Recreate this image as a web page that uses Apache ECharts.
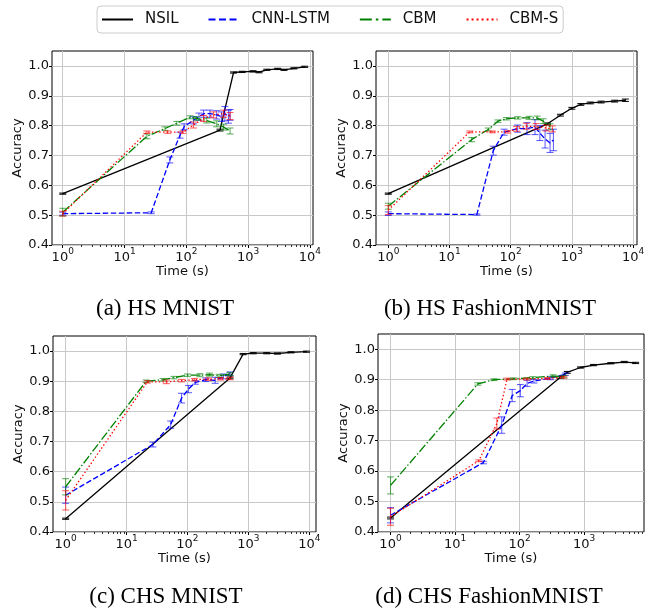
<!DOCTYPE html>
<html>
<head>
<meta charset="utf-8">
<script src="https://cdn.jsdelivr.net/npm/echarts@6/dist/echarts.min.js"></script>
<style>
  html, body { margin: 0; padding: 0; background: #fff; }
  #chart { width: 654px; height: 612px; }
</style>
</head>
<body>
<div id="chart"></div>
<script>
// each point: [time (s), accuracy, error half-width]
const hsMnistNsil = [[1,0.572,0.002],[350,0.785,0.003],[580,0.978,0.002],[800,0.98,0.002],[1200,0.982,0.002],[1500,0.979,0.002],[2000,0.987,0.002],[3000,0.99,0.002],[3800,0.987,0.002],[5500,0.992,0.002],[8200,0.997,0.002]];
const hsMnistCnn = [[1,0.505,0.005],[27,0.508,0.003],[54,0.685,0.01],[79,0.768,0.01],[92,0.796,0.01],[130,0.818,0.012],[160,0.83,0.012],[190,0.84,0.012],[240,0.84,0.012],[310,0.836,0.014],[370,0.83,0.016],[420,0.84,0.024],[480,0.83,0.022],[510,0.836,0.018]];
const hsMnistCbm = [[1,0.51,0.013],[23,0.764,0.008],[45,0.79,0.006],[70,0.808,0.006],[115,0.828,0.005],[146,0.824,0.006],[213,0.817,0.008],[310,0.806,0.01],[400,0.795,0.01],[510,0.782,0.01]];
const hsMnistCbmS = [[1,0.505,0.008],[23,0.778,0.004],[50,0.778,0.004],[88,0.778,0.004],[130,0.802,0.01],[190,0.824,0.01],[275,0.836,0.01],[400,0.84,0.012],[510,0.832,0.012]];

const hsFashionNsil = [[1,0.572,0.002],[400,0.806,0.003],[650,0.835,0.003],[1000,0.858,0.003],[1400,0.871,0.003],[2000,0.876,0.003],[3000,0.879,0.003],[5000,0.882,0.003],[7500,0.885,0.004]];
const hsFashionCnn = [[1,0.505,0.006],[28,0.502,0.002],[52,0.716,0.015],[78,0.778,0.01],[130,0.79,0.012],[185,0.79,0.02],[250,0.795,0.025],[300,0.775,0.025],[365,0.755,0.03],[440,0.742,0.032],[500,0.752,0.036]];
const hsFashionCbm = [[1,0.53,0.01],[23,0.753,0.007],[43,0.787,0.005],[62,0.815,0.004],[85,0.823,0.004],[130,0.826,0.004],[200,0.826,0.005],[270,0.826,0.006],[340,0.815,0.008],[440,0.796,0.01]];
const hsFashionCbmS = [[1,0.517,0.015],[21.5,0.779,0.003],[50,0.779,0.003],[90,0.779,0.004],[125,0.789,0.008],[180,0.798,0.01],[260,0.797,0.01],[380,0.792,0.01],[480,0.789,0.01]];

const chsMnistNsil = [[1,0.444,0.002],[500,0.911,0.003],[820,0.99,0.002],[1200,0.993,0.002],[2000,0.993,0.002],[3000,0.992,0.002],[5000,0.996,0.002],[9000,0.998,0.002]];
const chsMnistCnn = [[1,0.522,0.027],[27,0.69,0.008],[53,0.756,0.012],[80,0.844,0.016],[104,0.874,0.012],[135,0.896,0.006],[200,0.905,0.006],[285,0.903,0.01],[390,0.916,0.008],[500,0.925,0.006]];
const chsMnistCbm = [[1,0.55,0.027],[21,0.9,0.004],[40,0.905,0.004],[60,0.912,0.004],[100,0.92,0.004],[160,0.92,0.005],[230,0.922,0.005],[330,0.918,0.005],[500,0.924,0.005]];
const chsMnistCbmS = [[1,0.505,0.032],[22,0.898,0.004],[45,0.898,0.006],[80,0.902,0.004],[130,0.905,0.004],[220,0.907,0.004],[350,0.908,0.004],[500,0.909,0.004]];

const chsFashionNsil = [[1,0.446,0.003],[430,0.908,0.003],[550,0.924,0.003],[880,0.94,0.002],[1400,0.948,0.002],[2600,0.954,0.002],[4200,0.958,0.002],[6300,0.955,0.002]];
const chsFashionCnn = [[1,0.455,0.025],[27.5,0.628,0.004],[53,0.751,0.027],[77,0.848,0.02],[103,0.864,0.02],[131,0.888,0.01],[167,0.895,0.006],[300,0.905,0.005],[514,0.918,0.004]];
const chsFashionCbm = [[1,0.553,0.028],[22.6,0.886,0.004],[40,0.9,0.003],[80,0.903,0.003],[160,0.907,0.003],[330,0.912,0.004],[490,0.91,0.004]];
const chsFashionCbmS = [[1,0.45,0.028],[23.4,0.634,0.003],[44.5,0.756,0.018],[64,0.902,0.003],[130,0.902,0.003],[270,0.904,0.003],[485,0.908,0.003]];

const methodNames = ['NSIL', 'CNN-LSTM', 'CBM', 'CBM-S'];
const captions = ['(a) HS MNIST', '(b) HS FashionMNIST', '(c) CHS MNIST', '(d) CHS FashionMNIST'];
const yTicks = [0.4, 0.5, 0.6, 0.7, 0.8, 0.9, 1.0];
const xTicks = [1, 10, 100, 1000, 10000];

const panels = [
  { lines: [hsMnistNsil, hsMnistCnn, hsMnistCbm, hsMnistCbmS], min: 0.67, max: 11200, box: [52, 51, 261, 194], cap: [165, 309] },
  { lines: [hsFashionNsil, hsFashionCnn, hsFashionCbm, hsFashionCbmS], min: 0.63, max: 11600, box: [376, 51, 261, 194], cap: [490, 309] },
  { lines: [chsMnistNsil, chsMnistCnn, chsMnistCbm, chsMnistCbmS], min: 0.62, max: 12900, box: [53, 336, 263, 196], cap: [166, 597] },
  { lines: [chsFashionNsil, chsFashionCnn, chsFashionCbm, chsFashionCbmS], min: 0.64, max: 8500, box: [378, 334, 266, 198], cap: [489, 597] }
];

const colors = ['#000000', '#0000ff', '#008000', '#ff0000'];
const dashes = ['solid', [5.5, 2.5], [9, 2.2, 1.4, 2.2], [1.4, 2.3]];
const legendDashes = [[31, 0], [7, 3.5], [12, 4, 2.5, 4], [2, 3]];
const font = 'DejaVu Sans';
const txt = '#111';

// legend icon: dashed stroke drawn as little filled rects, 31 x 2
function dashIcon(pat) {
  let x = 0, i = 0, d = '';
  while (x < 31) {
    const len = pat[i % pat.length];
    if (i % 2 === 0) {
      const w = Math.min(len, 31 - x);
      d += 'M' + x + ',0h' + w + 'v2h-' + w + 'z';
    }
    x += len;
    i++;
  }
  // invisible anchor so every icon has the same 31 x 2 box
  d += 'M31,0v2z';
  return 'path://' + d;
}

// minor tick positions 2..9 x 10^n
const minorTicks = [];
[1, 10, 100, 1000].forEach(function (b) {
  for (let k = 2; k <= 9; k++) minorTicks.push(k * b);
});

const grids = [], xAxes = [], yAxes = [], series = [], graphics = [];

panels.forEach(function (p, i) {
  grids.push({
    left: p.box[0], top: p.box[1], width: p.box[2], height: p.box[3],
    show: true, borderColor: '#000', borderWidth: 1, backgroundColor: 'transparent'
  });
  xAxes[i] = {
    type: 'log', logBase: 10, gridIndex: i, min: p.min, max: p.max,
    name: 'Time (s)', nameLocation: 'middle', nameGap: 17,
    nameTextStyle: { fontFamily: font, fontSize: 13, color: txt },
    axisLine: { show: false },
    axisTick: { show: true, inside: false, length: 3, customValues: xTicks.filter(v => v <= p.max), lineStyle: { color: '#000', width: 1 } },
    axisLabel: {
      margin: 2,
      customValues: xTicks.filter(v => v <= p.max),
      formatter: function (v) { return '{b|10}{s|' + Math.round(Math.log10(v)) + '}'; },
      rich: {
        b: { fontFamily: font, fontSize: 13, color: txt, padding: [4, 0, 0, 0], verticalAlign: 'bottom' },
        s: { fontFamily: font, fontSize: 9, color: txt, verticalAlign: 'top' }
      }
    },
    splitLine: { show: true, lineStyle: { color: '#c8c8c8', width: 1 } }
  };
  // minor ticks along the bottom
  xAxes[4 + i] = {
    type: 'log', logBase: 10, gridIndex: i, min: p.min, max: p.max, position: 'bottom',
    axisLine: { show: false },
    axisTick: { show: true, length: 2, customValues: minorTicks.filter(v => v > p.min && v < p.max), lineStyle: { color: '#000', width: 0.8 } },
    axisLabel: { show: false },
    splitLine: { show: false }
  };
  yAxes.push({
    type: 'value', gridIndex: i, min: 0.4, max: 1.05, interval: 0.1,
    name: 'Accuracy', nameLocation: 'middle', nameGap: 25, nameRotate: 90,
    nameTextStyle: { fontFamily: font, fontSize: 13, color: txt },
    axisLine: { show: false },
    axisTick: { show: true, length: 3, customValues: yTicks, lineStyle: { color: '#000', width: 1 } },
    axisLabel: {
      margin: 3, customValues: yTicks, fontFamily: font, fontSize: 13, color: txt,
      formatter: function (v) { return v.toFixed(1); }
    },
    splitLine: { show: true, lineStyle: { color: '#c8c8c8', width: 1 } }
  });

  p.lines.forEach(function (arr, k) {
    series.push({
      name: methodNames[k], type: 'line', xAxisIndex: i, yAxisIndex: i,
      data: arr.map(d => [d[0], d[1]]),
      symbol: 'none', z: 3 + k,
      lineStyle: { color: colors[k], width: 1.3, type: dashes[k] },
      itemStyle: { color: colors[k] },
      emphasis: { disabled: true }, silent: true, animation: false
    });
  });
  // error bars
  p.lines.forEach(function (arr, k) {
    series.push({
      type: 'custom', xAxisIndex: i, yAxisIndex: i, clip: true, z: 3 + k, silent: true, animation: false,
      encode: { x: 0, y: 1 },
      data: arr,
      renderItem: function (params, api) {
        const x = api.value(0), y = api.value(1), e = api.value(2);
        const lo = api.coord([x, y - e]);
        const hi = api.coord([x, y + e]);
        const c = 3.5;
        const st = { stroke: colors[k], lineWidth: 1.1, opacity: k === 0 ? 0.9 : 0.6 };
        return {
          type: 'group',
          children: [
            { type: 'line', shape: { x1: lo[0], y1: lo[1], x2: hi[0], y2: hi[1] }, style: st },
            { type: 'line', shape: { x1: lo[0] - c, y1: lo[1], x2: lo[0] + c, y2: lo[1] }, style: st },
            { type: 'line', shape: { x1: hi[0] - c, y1: hi[1], x2: hi[0] + c, y2: hi[1] }, style: st }
          ]
        };
      }
    });
  });

  graphics.push({
    type: 'text', x: p.cap[0], y: p.cap[1],
    style: { text: captions[i], font: '23px "Liberation Serif"', fill: '#000', textAlign: 'center', textVerticalAlign: 'middle' }
  });
});

const chart = echarts.init(document.getElementById('chart'), null, { renderer: 'canvas' });
chart.setOption({
  animation: false,
  backgroundColor: '#fff',
  legend: {
    left: 97, top: 6,
    padding: [6, 5, 6, 5],
    itemGap: 30, itemWidth: 31, itemHeight: 2,
    borderColor: '#cccccc', borderWidth: 1, borderRadius: 4,
    textStyle: { fontFamily: font, fontSize: 15, color: txt, padding: [0, 0, 0, 7] },
    data: methodNames.map((n, k) => ({
      name: n,
      icon: dashIcon(legendDashes[k]),
      itemStyle: { color: colors[k], borderWidth: 0 }
    }))
  },
  grid: grids,
  xAxis: xAxes,
  yAxis: yAxes,
  series: series,
  graphic: graphics
});
</script>
</body>
</html>
